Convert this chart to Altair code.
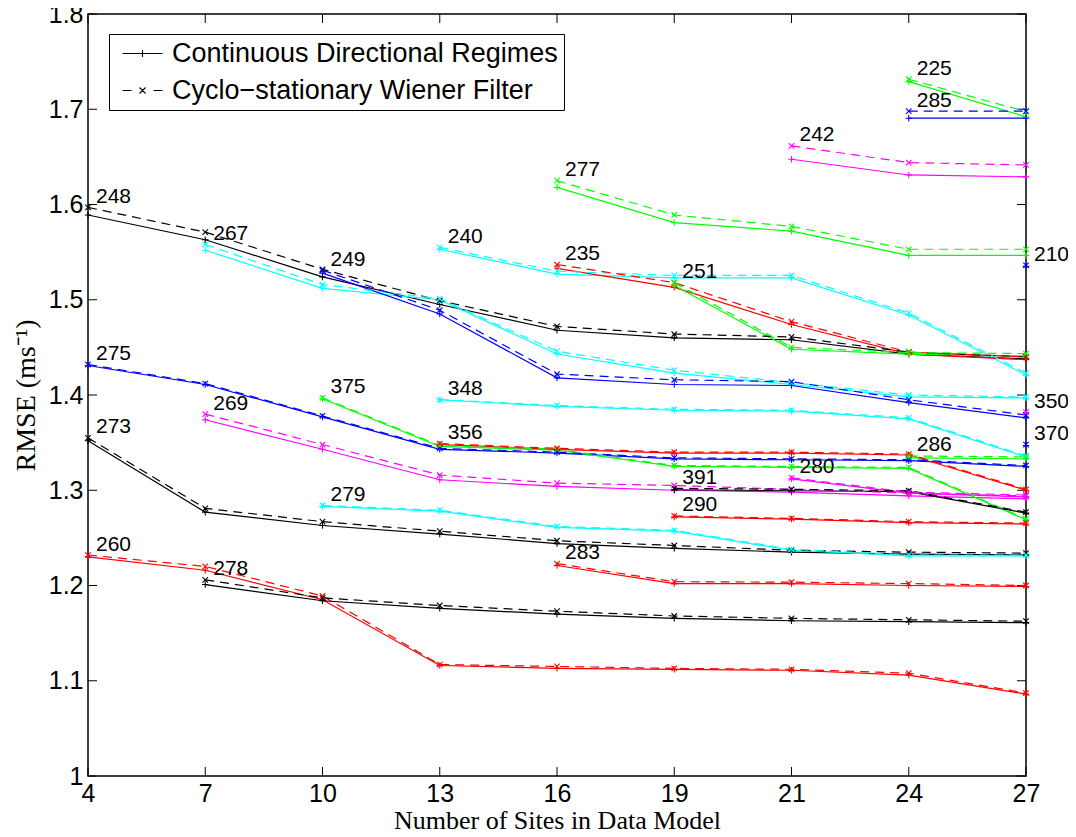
import altair as alt
import pandas as pd

# ---------------- data ----------------
site_counts = ["4", "7", "10", "13", "16", "19", "21", "24", "27"]
rmse_ticks = [1.0, 1.1, 1.2, 1.3, 1.4, 1.5, 1.6, 1.7, 1.8]
method_names = ["Continuous Directional Regimes", "Cyclo\u2212stationary Wiener Filter"]

series_labels = ["248", "275", "273", "260", "267", "269", "278", "249", "375",
                 "279", "240", "348", "356", "277", "235", "283", "251", "391",
                 "290", "242", "280", "225", "285", "286", "210", "350", "370"]
series_colors = ["#000000", "#0000ff", "#000000", "#ff0000", "#00ffff", "#ff00ff",
                 "#000000", "#0000ff", "#00ff00", "#00ffff", "#00ffff", "#00ffff",
                 "#ff0000", "#00ff00", "#ff0000", "#ff0000", "#00ff00", "#000000",
                 "#ff0000", "#ff00ff", "#ff00ff", "#00ff00", "#0000ff", "#00ff00",
                 "#0000ff", "#ff00ff", "#0000ff"]
series_first_site = ["4", "4", "4", "4", "7", "7", "7", "10", "10",
                     "10", "13", "13", "13", "16", "16", "16", "19", "19",
                     "19", "21", "21", "24", "24", "24", "27", "27", "27"]

# Continuous Directional Regimes (solid, +)
cdr_rmse = [
    [1.589, 1.563, 1.524, 1.495, 1.468, 1.460, 1.458, 1.443, 1.438],
    [1.431, 1.411, 1.377, 1.343, 1.339, 1.333, 1.332, 1.331, 1.325],
    [1.352, 1.277, 1.263, 1.254, 1.244, 1.239, 1.235, 1.233, 1.232],
    [1.230, 1.216, 1.185, 1.116, 1.113, 1.112, 1.111, 1.106, 1.086],
    [1.552, 1.512, 1.500, 1.443, 1.423, 1.411, 1.398, 1.397],
    [1.374, 1.343, 1.311, 1.304, 1.300, 1.298, 1.294, 1.291],
    [1.201, 1.184, 1.176, 1.170, 1.1655, 1.163, 1.162, 1.161],
    [1.528, 1.485, 1.418, 1.411, 1.410, 1.392, 1.376],
    [1.396, 1.346, 1.342, 1.325, 1.324, 1.323, 1.269],
    [1.283, 1.278, 1.261, 1.257, 1.237, 1.231, 1.231],
    [1.553, 1.527, 1.523, 1.523, 1.484, 1.421],
    [1.395, 1.388, 1.384, 1.383, 1.375, 1.335],
    [1.348, 1.343, 1.339, 1.339, 1.337, 1.300],
    [1.618, 1.581, 1.572, 1.5465, 1.5465],
    [1.533, 1.513, 1.474, 1.443, 1.437],
    [1.221, 1.202, 1.202, 1.200, 1.199],
    [1.515, 1.448, 1.443, 1.441],
    [1.3005, 1.2995, 1.2985, 1.276],
    [1.272, 1.2697, 1.266, 1.2645],
    [1.6475, 1.631, 1.629],
    [1.312, 1.297, 1.293],
    [1.729, 1.692],
    [1.6906, 1.6906],
    [1.334, 1.333],
    [1.535],
    [1.381],
    [1.347],
]

# Cyclo-stationary Wiener Filter (dashed, x)
cwf_rmse = [
    [1.597, 1.571, 1.532, 1.499, 1.472, 1.464, 1.461, 1.445, 1.440],
    [1.432, 1.412, 1.378, 1.344, 1.340, 1.334, 1.333, 1.332, 1.326],
    [1.355, 1.281, 1.267, 1.257, 1.247, 1.242, 1.237, 1.235, 1.234],
    [1.232, 1.220, 1.189, 1.117, 1.115, 1.113, 1.112, 1.108, 1.087],
    [1.558, 1.516, 1.501, 1.446, 1.426, 1.413, 1.400, 1.398],
    [1.380, 1.348, 1.316, 1.3075, 1.305, 1.301, 1.297, 1.294],
    [1.206, 1.187, 1.179, 1.173, 1.168, 1.1655, 1.164, 1.1625],
    [1.531, 1.489, 1.422, 1.416, 1.414, 1.395, 1.379],
    [1.397, 1.347, 1.343, 1.326, 1.325, 1.324, 1.270],
    [1.284, 1.279, 1.262, 1.258, 1.238, 1.232, 1.232],
    [1.555, 1.530, 1.5255, 1.5255, 1.486, 1.423],
    [1.395, 1.389, 1.385, 1.384, 1.376, 1.336],
    [1.349, 1.344, 1.340, 1.340, 1.338, 1.301],
    [1.625, 1.589, 1.577, 1.553, 1.553],
    [1.537, 1.518, 1.477, 1.445, 1.440],
    [1.223, 1.204, 1.2035, 1.202, 1.200],
    [1.518, 1.450, 1.4445, 1.4435],
    [1.302, 1.301, 1.2995, 1.277],
    [1.273, 1.2705, 1.267, 1.2655],
    [1.6615, 1.644, 1.6415],
    [1.313, 1.298, 1.295],
    [1.7315, 1.6975],
    [1.698, 1.698],
    [1.336, 1.335],
    [1.536],
    [1.382],
    [1.348],
]

# ---------------- tables built from the lists ----------------
rows = []
for k, lab in enumerate(series_labels):
    first = site_counts.index(series_first_site[k])
    for j in range(len(cdr_rmse[k])):
        site = site_counts[first + j]
        rows.append({"series": lab, "site": site, "step": j, "kind": "cdr",
                     "method": method_names[0], "rmse": cdr_rmse[k][j]})
        rows.append({"series": lab, "site": site, "step": j, "kind": "cwf",
                     "method": method_names[1], "rmse": cwf_rmse[k][j]})
df = pd.DataFrame(rows)

lab_df = pd.DataFrame({
    "series": series_labels,
    "site": series_first_site,
    "rmse": [max(a[0], b[0]) for a, b in zip(cdr_rmse, cwf_rmse)],
})
ytick_df = pd.DataFrame({"rmse": rmse_ticks})
xtick_df = pd.DataFrame({"site": site_counts})

# ---------------- styling ----------------
W, H = 938, 762
TICK = 9
SANS = "Liberation Sans"
SERIF = "Liberation Serif"

x_scale = alt.Scale(domain=site_counts, type="point", padding=0)
y_scale = alt.Scale(domain=[1.0, 1.8], nice=False, zero=False)

x_axis = alt.Axis(title="Number of Sites in Data Model", labelAngle=0, labelFontSize=25,
                  labelFont=SANS, labelColor="black", labelPadding=5, tickSize=0,
                  domain=False, grid=False, titleFont=SERIF, titleFontSize=26,
                  titleFontWeight="normal", titleColor="black", titlePadding=1)
y_axis = alt.Axis(title="RMSE (ms\u207b\u00b9)", values=rmse_ticks, format="~g",
                  labelFontSize=25, labelFont=SANS, labelColor="black", labelPadding=5,
                  tickSize=0, domain=False, grid=False, titleFont=SERIF,
                  titleFontSize=28, titleFontWeight="normal", titleColor="black",
                  titlePadding=8)

X = alt.X("site:O", scale=x_scale, axis=x_axis)
Y = alt.Y("rmse:Q", scale=y_scale, axis=y_axis)
COLOR = alt.Color("series:N", scale=alt.Scale(domain=series_labels, range=series_colors),
                  legend=None)

PLUS = "M-1,0H1M0,-1V1"
XMARK = "M-1,-1L1,1M-1,1L1,-1"
LEG_CDR = "M-0.6,0H3.4M1.4,-0.35V0.35"
LEG_CWF = "M-0.6,0H0.3M2.5,0H3.4M1.1,-0.3L1.7,0.3M1.1,0.3L1.7,-0.3"

base = alt.Chart(df)

solid = base.transform_filter(alt.datum.kind == "cdr").mark_line(strokeWidth=1.2).encode(
    x=X, y=Y, color=COLOR, detail="series:N", order="step:Q")
dashed = base.transform_filter(alt.datum.kind == "cwf").mark_line(
    strokeWidth=1.2, strokeDash=[9, 6]).encode(
    x=X, y=Y, color=COLOR, detail="series:N", order="step:Q")
plus_pts = base.transform_filter(alt.datum.kind == "cdr").mark_point(
    shape=PLUS, size=42, filled=False, strokeWidth=1.1, opacity=1).encode(x=X, y=Y, color=COLOR)
x_pts = base.transform_filter(alt.datum.kind == "cwf").mark_point(
    shape=XMARK, size=30, filled=False, strokeWidth=1.1, opacity=1).encode(x=X, y=Y, color=COLOR)

legend_layer = base.mark_point(filled=False, opacity=0, color="black").encode(
    x=X, y=Y,
    shape=alt.Shape("method:N",
                    scale=alt.Scale(domain=method_names, range=[LEG_CDR, LEG_CWF]),
                    legend=alt.Legend(title=None, orient="none", legendX=21, legendY=20,
                                      direction="vertical", symbolSize=400,
                                      symbolStrokeWidth=1.1, symbolStrokeColor="black",
                                      symbolFillColor="transparent", symbolOpacity=1,
                                      labelFont=SANS, labelFontSize=27, labelColor="black",
                                      labelLimit=800, labelOffset=30, padding=6,
                                      rowPadding=9, strokeColor="black", fillColor="white",
                                      cornerRadius=0)))

labels = alt.Chart(lab_df).transform_calculate(
    label_y="datum.rmse + 0.011").mark_text(
    align="left", baseline="middle", dx=8, fontSize=21, font=SANS, color="black").encode(
    x=X, y=alt.Y("label_y:Q", scale=y_scale, axis=y_axis), text="series:N")

left_ticks = alt.Chart(ytick_df).mark_rule(color="black", strokeWidth=1).encode(
    y=Y, x=alt.value(0), x2=alt.value(TICK))
right_ticks = alt.Chart(ytick_df).mark_rule(color="black", strokeWidth=1).encode(
    y=Y, x=alt.value(W - TICK), x2=alt.value(W))
bottom_ticks = alt.Chart(xtick_df).mark_rule(color="black", strokeWidth=1).encode(
    x=X, y=alt.value(H - TICK), y2=alt.value(H))
top_ticks = alt.Chart(xtick_df).mark_rule(color="black", strokeWidth=1).encode(
    x=X, y=alt.value(0), y2=alt.value(TICK))

chart = alt.layer(
    left_ticks, right_ticks, bottom_ticks, top_ticks,
    solid, dashed, plus_pts, x_pts, legend_layer, labels,
).properties(
    width=W, height=H,
    padding={"left": 80, "top": 6, "right": 42, "bottom": 57},
    autosize=alt.AutoSizeParams(type="none"),
    background="white",
).configure_view(stroke="black", strokeWidth=1.5).configure_axis(grid=False)

chart.save("out.html", embed_options={"renderer": "svg", "actions": False})
